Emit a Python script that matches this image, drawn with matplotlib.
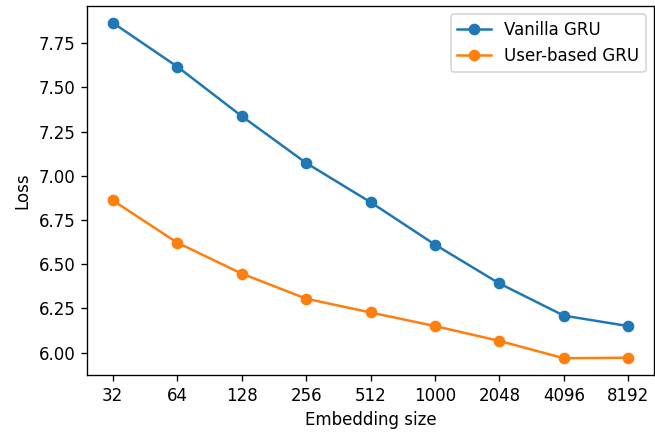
import matplotlib
matplotlib.use("Agg")
import matplotlib.pyplot as plt

sizes = ["32", "64", "128", "256", "512", "1000", "2048", "4096", "8192"]
vanilla_gru = [7.866, 7.618, 7.338, 7.073, 6.851, 6.611, 6.391, 6.209, 6.150]
user_gru = [6.861, 6.622, 6.447, 6.305, 6.227, 6.150, 6.066, 5.968, 5.971]

dpi = 120
fig = plt.figure(figsize=(655 / dpi, 433 / dpi), dpi=dpi)
ax = fig.add_axes([87 / 655, 1 - 375 / 433, (654 - 87) / 655, (375 - 6) / 433])

x = list(range(len(sizes)))
ax.plot(x, vanilla_gru, marker="o", label="Vanilla GRU")
ax.plot(x, user_gru, marker="o", label="User-based GRU")
ax.set_xticks(x)
ax.set_xticklabels(sizes)
ax.set_xlabel("Embedding size")
ax.set_ylabel("Loss")
ax.legend(loc="upper right")

fig.savefig("out.png", dpi=dpi)
